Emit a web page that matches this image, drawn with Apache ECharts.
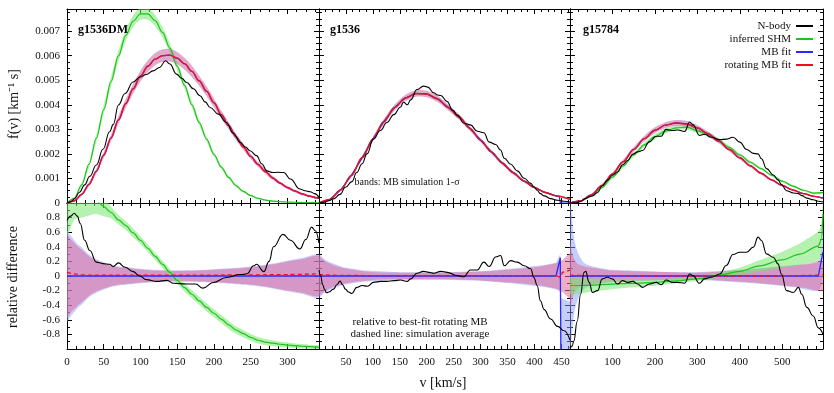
<!DOCTYPE html>
<html>
<head>
<meta charset="utf-8">
<script src="https://cdn.jsdelivr.net/npm/echarts@6/dist/echarts.min.js"></script>
<style>
  html, body { margin: 0; padding: 0; background: #fff; }
  #chart { width: 834px; height: 393px; }
</style>
</head>
<body>
<div id="chart"></div>
<script>
// ---- g1536DM ----
const p1FitV = [0,10,20,30,40,50,60,70,80,90,100,110,120,130,140,150,160,170,180,190,200,210,220,230,240,250,260,270,280,290,300,310,320,330,340,343];
const p1Shm = [0,0.00019,0.00074,0.00158,0.00264,0.0038,0.00495,0.00599,0.00683,0.00741,0.0077,0.0077,0.00743,0.00695,0.00631,0.00557,0.00479,0.004,0.00327,0.0026,0.00198,0.00146,0.00104,0.00071,0.00047,0.0003,0.00019,0.00012,0.00008,0.00005,0.00004,0.00003,0.00002,0.00002,0.00001,0.00001];
const p1ShmErr = [0,0.00004,0.00008,0.00012,0.00015,0.00018,0.0002,0.00022,0.00023,0.00024,0.00024,0.00024,0.00023,0.00021,0.00019,0.00017,0.00015,0.00013,0.00011,0.0001,0.00008,0.00007,0.00006,0.00005,0.00004,0.00003,0.00003,0.00002,0.00002,0.00001,0.00001,0.00001,0.00001,0.00001,0.00001,0.00001];
const p1Rot = [0,0.00009,0.00035,0.00076,0.0013,0.00195,0.00265,0.00338,0.00405,0.00465,0.00517,0.00557,0.00586,0.006,0.00602,0.0059,0.00567,0.00536,0.00497,0.00455,0.00408,0.0036,0.00315,0.0027,0.00228,0.0019,0.00157,0.00128,0.00102,0.00081,0.00063,0.00049,0.00037,0.00028,0.00021,0.0002];
const p1RotErr = [0,0.00002,0.00005,0.00008,0.0001,0.00012,0.00014,0.00016,0.00018,0.0002,0.00022,0.00024,0.00025,0.00026,0.00026,0.00025,0.00024,0.00023,0.00021,0.0002,0.00018,0.000165,0.00015,0.000135,0.00012,0.00011,0.0001,0.00009,0.00008,0.00007,0.00006,0.000055,0.00005,0.000045,0.00004,0.00004];
const p1BodyV = [0,5,10,17,24,31,40,49,58,63,70,79,90,99,108,117,126,134,140,149,156,163,172,181,188,195,206,217,226,236,243,249,258,265,272,280,287,295,304,317,324,331,337,343];
const p1Body = [0,0.00004,0.00017,0.00044,0.00074,0.00109,0.00155,0.00219,0.0029,0.0032,0.00399,0.00446,0.00493,0.00512,0.00523,0.00538,0.00552,0.00579,0.00566,0.00525,0.00508,0.00491,0.00465,0.00437,0.00412,0.00389,0.00362,0.00328,0.00285,0.00247,0.00228,0.00213,0.00193,0.0016,0.00131,0.00124,0.00125,0.00124,0.00098,0.00057,0.0005,0.00046,0.00038,0.00023];
const p1RelShm = [1.15,1.15,1.12,1.08,1.03,0.95,0.87,0.77,0.69,0.59,0.49,0.38,0.27,0.16,0.05,-0.06,-0.16,-0.25,-0.34,-0.43,-0.51,-0.59,-0.67,-0.74,-0.79,-0.84,-0.88,-0.905,-0.92,-0.935,-0.945,-0.955,-0.962,-0.968,-0.974,-0.975];
const p1RelShmErr = [0.6,0.38,0.32,0.25,0.18,0.13,0.08,0.065,0.06,0.06,0.055,0.05,0.05,0.05,0.05,0.045,0.055,0.055,0.055,0.055,0.055,0.055,0.055,0.052,0.05,0.047,0.045,0.042,0.04,0.037,0.035,0.032,0.03,0.027,0.025,0.025];
const p1RelV = [0,5,10,15,20,30,40,50,60,70,80,90,100,120,140,160,180,200,220,240,260,280,300,320,343];
const p1RelRotErr = [0.57,0.5,0.45,0.4,0.36,0.27,0.21,0.17,0.14,0.12,0.11,0.1,0.09,0.075,0.07,0.07,0.075,0.085,0.095,0.11,0.13,0.16,0.2,0.23,0.27];
const p1RelMbErr = [0.62,0.55,0.49,0.43,0.39,0.29,0.23,0.185,0.15,0.13,0.12,0.11,0.1,0.085,0.078,0.078,0.083,0.093,0.105,0.12,0.14,0.17,0.21,0.245,0.285];
const p1RelMbV = [0,343];
const p1RelMb = [0,0];
const p1AvgV = [0,10,20,40,150,250,300,343];
const p1Avg = [0.05,0.03,0.015,0.01,0.01,0.015,0.02,0.03];
const p1BodyRelV = [0,5,10,14,18,24,31,40,49,58,63,70,79,90,99,108,122,136,145,163,175,185,199,217,236,245,254,258,268,275,281,294,304,317,325,333,338,343];
const p1BodyRel = [0.76,0.82,0.86,0.82,0.72,0.49,0.35,0.19,0.17,0.16,0.13,0.18,0.12,0.06,0.0,-0.05,-0.074,-0.06,-0.1,-0.11,-0.11,-0.166,-0.09,-0.02,0.02,0.03,0.14,0.16,0.06,0.2,0.4,0.57,0.49,0.37,0.5,0.67,0.62,0.45];

// ---- g1536 ----
const p2FitV = [0,20,40,60,80,100,120,140,160,180,200,220,240,260,280,300,320,340,360,380,400,420,440,466];
const p2Rot = [0,0.00014,0.00053,0.00112,0.00184,0.0026,0.0033,0.00388,0.00427,0.00446,0.00444,0.00424,0.00389,0.0035,0.00304,0.00256,0.00208,0.00163,0.00124,0.0009,0.00063,0.00043,0.00029,0.00015];
const p2RotErr = [0,0.00002,0.00004,0.00006,0.00008,0.0001,0.00011,0.00012,0.00013,0.00013,0.00013,0.00013,0.00012,0.00011,0.0001,0.00009,0.00008,0.00007,0.00006,0.00005,0.00004,0.00004,0.00003,0.00003];
const p2MbV = [0,20,40,60,80,100,120,140,160,180,200,220,240,260,280,300,320,340,360,380,400,420,440,446,448,466];
const p2Mb = [0,0.00014,0.00053,0.00112,0.00184,0.0026,0.0033,0.00388,0.00427,0.00446,0.00444,0.00424,0.00389,0.0035,0.00304,0.00256,0.00208,0.00163,0.00124,0.0009,0.00063,0.00043,0.00029,0.00027,0,0];
const p2BodyV = [0,10,18,27,39,49,61,70,80,89,101,114,126,139,151,157,164,170,182,194,202,213,220,226,238,248,257,269,281,294,306,316,328,337,344,356,368,381,393,399,405,411,418,430,443,455,466];
const p2Body = [0,0.00003,0.00009,0.00017,0.00035,0.00064,0.00087,0.00124,0.0016,0.002,0.0026,0.00295,0.00328,0.0036,0.0039,0.0041,0.004,0.0042,0.00462,0.00476,0.00472,0.00449,0.0044,0.00438,0.00413,0.00378,0.00358,0.00325,0.00318,0.00292,0.00286,0.00248,0.00238,0.00216,0.00182,0.00158,0.00131,0.00101,0.0008,0.00066,0.00052,0.00038,0.00029,0.00018,0.00011,0.00007,0.00004];
const p2RelV = [0,5,10,20,30,45,60,80,108,150,200,231,260,300,356,400,418,443,452,466];
const p2RelRotErr = [0.27,0.24,0.21,0.17,0.14,0.11,0.09,0.07,0.05,0.045,0.045,0.045,0.05,0.06,0.09,0.12,0.14,0.18,0.22,0.3];
const p2MbBandV = [0,10,20,45,80,150,231,300,356,418,440,448,449,466];
const p2MbLo = [-0.3,-0.23,-0.19,-0.12,-0.08,-0.05,-0.05,-0.065,-0.1,-0.15,-0.18,-0.22,-1.0,-1.0];
const p2MbHi = [0.3,0.23,0.19,0.12,0.08,0.05,0.05,0.065,0.1,0.15,0.18,0.3,-0.3,-0.35];
const p2RelMbV = [0,440,448,449,466];
const p2RelMb = [0,0,0.25,-1.05,-1.05];
const p2AvgV = [0,30,100,440,448,452,466];
const p2Avg = [0.02,0.01,0.005,0.005,-0.02,0.05,0.08];
const p2BodyRelV = [0,3,7,10,14,18,27,33,39,44,49,55,61,70,80,90,101,114,126,139,151,164,170,182,194,204,213,226,238,257,269,281,294,306,316,328,337,344,356,368,381,393,399,405,411,418,430,443,455,466];
const p2BodyRel = [0.08,0.0,-0.12,-0.18,-0.23,-0.22,-0.18,-0.12,-0.07,-0.12,-0.18,-0.22,-0.24,-0.156,-0.13,-0.14,-0.087,-0.074,-0.074,-0.064,-0.055,-0.074,-0.04,0.037,0.064,0.05,0.037,0.064,0.05,0.005,-0.01,0.083,0.083,0.19,0.13,0.26,0.28,0.14,0.21,0.19,0.14,0.1,-0.02,-0.13,-0.34,-0.46,-0.59,-0.69,-0.75,-0.88];

// ---- g15784 ----
const p3FitV = [0,25,50,75,100,125,150,175,200,225,250,275,300,325,350,375,400,425,450,475,500,525,550,575,596];
const p3Rot = [0,0.000085,0.00033,0.00071,0.00118,0.00168,0.00218,0.00262,0.00296,0.00317,0.00326,0.00322,0.00306,0.00282,0.00252,0.00218,0.00184,0.00151,0.00121,0.00094,0.00071,0.00053,0.00038,0.00027,0.0002];
const p3RotErr = [0,0.00001,0.00003,0.00005,0.00007,0.00008,0.0001,0.00011,0.00012,0.00012,0.00012,0.00012,0.00011,0.0001,0.00009,0.00008,0.00007,0.00006,0.00005,0.00004,0.00004,0.00003,0.00003,0.00002,0.00002];
const p3Shm = [0,0.000074,0.00029,0.000625,0.00105,0.0015,0.00196,0.00237,0.0027,0.00293,0.00306,0.00309,0.00294,0.00278,0.00255,0.00227,0.00196,0.00166,0.0014,0.00113,0.00089,0.00069,0.00052,0.0004,0.00042];
const p3ShmErr = [0,0.00001,0.00002,0.00004,0.00006,0.00007,0.00008,0.00009,0.0001,0.0001,0.0001,0.0001,0.0001,0.00009,0.00008,0.00007,0.00006,0.00006,0.00005,0.00005,0.00004,0.00004,0.00004,0.00004,0.00004];
const p3BodyV = [0,10,17,25,33,40,45,53,65,76,88,100,112,124,136,148,159,171,187,203,215,226,242,254,270,282,290,305,317,333,353,368,384,400,416,432,443,451,463,479,490,498,510,526,538,546,558,573,585,596];
const p3Body = [0,0.000005,0.00002,0.000064,0.00016,0.0002,0.00025,0.00029,0.00043,0.0007,0.00092,0.00113,0.00126,0.00156,0.00173,0.00199,0.00208,0.00214,0.00249,0.00272,0.00272,0.003,0.00295,0.00297,0.00291,0.0033,0.00318,0.00275,0.0028,0.00268,0.00258,0.0026,0.00268,0.00248,0.00218,0.00202,0.002,0.0018,0.0014,0.00114,0.00094,0.00076,0.0005,0.00041,0.00038,0.0003,0.0002,0.00013,0.00007,0.00004];
const p3RelShmV = [0,25,50,100,150,200,250,300,353,400,447,499,542,585,592,596];
const p3RelShm = [-0.13,-0.13,-0.125,-0.11,-0.1,-0.087,-0.065,-0.04,0.014,0.064,0.14,0.22,0.3,0.41,0.5,0.85];
const p3RelShmErr = [0.12,0.11,0.09,0.07,0.055,0.045,0.035,0.03,0.035,0.05,0.08,0.11,0.15,0.2,0.21,0.25];
const p3RelV = [0,3,10,20,35,55,80,100,130,170,220,290,340,368,400,447,500,526,560,596];
const p3RelRotErr = [0.45,0.36,0.23,0.16,0.13,0.11,0.09,0.075,0.068,0.062,0.055,0.046,0.055,0.07,0.08,0.1,0.13,0.145,0.17,0.2];
const p3MbBandV = [0,3,10,20,35,55,80,100,170,290,368,447,526,585,596];
const p3MbLo = [-1.0,-0.9,-0.5,-0.3,-0.17,-0.13,-0.1,-0.085,-0.07,-0.05,-0.075,-0.105,-0.15,-0.2,0.0];
const p3MbHi = [1.0,0.9,0.5,0.3,0.17,0.13,0.1,0.085,0.07,0.05,0.075,0.105,0.15,0.2,0.6];
const p3RelMbV = [0,585,596];
const p3RelMb = [0,0,0.33];
const p3AvgV = [0,50,300,500,580,596];
const p3Avg = [0.01,0.005,0,0,0.01,0.02];
const p3BodyRelV = [0,5,9,17,25,33,37,45,53,65,76,88,100,112,124,136,148,159,171,187,203,215,226,242,254,270,282,290,305,317,333,353,368,384,400,416,432,443,451,463,479,490,498,510,526,538,546,558,573,585,596];
const p3BodyRel = [-0.99,-0.96,-0.89,-0.62,-0.25,0.05,0.064,-0.087,-0.225,-0.2,-0.04,-0.018,-0.04,-0.11,-0.064,-0.087,-0.074,-0.11,-0.156,-0.11,-0.087,-0.12,-0.055,-0.087,-0.087,-0.1,0.028,0.005,-0.1,-0.04,-0.018,0.028,0.143,0.294,0.326,0.326,0.395,0.533,0.487,0.303,0.257,0.166,0.028,-0.2,-0.225,-0.156,-0.25,-0.43,-0.547,-0.71,-0.8];

const FONT = 'Liberation Serif';
const BLACK = '#000000', GREEN = '#1cc41c', BLUE = '#2828ff', RED = '#ee1020';
const PINK_TOP = 'rgba(200,115,170,0.6)';
const PINK_BAND = 'rgba(226,110,155,0.56)';
const BLUE_BAND = 'rgba(140,155,250,0.5)';
const GREEN_BAND = 'rgba(120,232,110,0.55)';

// panel layout: three columns, two rows sharing borders
const cols = [
  {left: 67, width: 252, max: 343, interval: 50, minor: 4, hideZero: false},
  {left: 319, width: 251, max: 466, interval: 50, minor: 4, hideZero: true},
  {left: 570, width: 253, max: 596, interval: 100, minor: 5, hideZero: true}
];
const rows = [
  {top: 9, height: 194, min: 0, max: 0.0079, interval: 0.001, minor: 4},
  {top: 203, height: 146, min: -1, max: 1, interval: 0.2, minor: 2}
];

const pts = (xs, ys) => xs.map((x, i) => [x, ys[i]]);
const minus = (c, e) => c.map((v, i) => v - e[i]);
const plus = (c, e) => c.map((v, i) => v + e[i]);

const grids = [], xAxes = [], yAxes = [];
const tickStyle = {color: '#000', width: 1};
const labelStyle = {fontFamily: FONT, fontSize: 11, color: '#111'};

rows.forEach((r, ri) => {
  cols.forEach((c, ci) => {
    const g = grids.length;
    grids.push({left: c.left, top: r.top, width: c.width, height: r.height, outerBoundsMode: 'none', containLabel: false});
    const base = {
      type: 'value', gridIndex: g,
      axisLine: {show: true, onZero: false, lineStyle: tickStyle},
      axisTick: {show: true, inside: true, length: 5, lineStyle: tickStyle},
      splitLine: {show: false}, minorSplitLine: {show: false}
    };
    const xBase = Object.assign({}, base, {min: 0, max: c.max, interval: c.interval,
      minorTick: {show: true, splitNumber: c.minor, length: 3, lineStyle: tickStyle}});
    xAxes.push(Object.assign({}, xBase, {position: 'bottom',
      axisLabel: Object.assign({show: ri === 1, margin: 8, showMaxLabel: false,
        formatter: v => (c.hideZero && v === 0) ? '' : String(v)}, labelStyle)}));
    xAxes.push(Object.assign({}, xBase, {position: 'top', axisLabel: {show: false}}));
    const yBase = Object.assign({}, base, {min: r.min, max: r.max, interval: r.interval,
      minorTick: {show: true, splitNumber: r.minor, length: 3, lineStyle: tickStyle}});
    yAxes.push(Object.assign({}, yBase, {position: 'left',
      axisLabel: Object.assign({show: ci === 0, margin: 7, showMaxLabel: false, showMinLabel: ri === 0,
        formatter: ri === 0
          ? (v => v === 0 ? '0' : v.toFixed(3))
          : (v => Math.abs(v) < 1e-9 ? '0' : String(Math.round(v * 10) / 10))}, labelStyle)}));
    yAxes.push(Object.assign({}, yBase, {position: 'right', axisLabel: {show: false}}));
  });
});

function line(g, xs, ys, color, width, extra) {
  return Object.assign({
    type: 'line', xAxisIndex: 2 * g, yAxisIndex: 2 * g,
    data: pts(xs, ys), symbol: 'none', smooth: 0.35, smoothMonotone: 'x',
    color: color, lineStyle: {color: color, width: width},
    silent: true, z: 3
  }, extra || {});
}

// a shaded band, drawn once as a polygon through the axis scales
function band(g, xs, lo, hi, color, smooth) {
  return {
    type: 'custom', xAxisIndex: 2 * g, yAxisIndex: 2 * g, clip: true, silent: true, z: 1,
    data: xs.map((x, i) => [x, lo[i], hi[i]]),
    encode: {x: 0, y: [1, 2]},
    renderItem: function (params, api) {
      if (params.dataIndex !== 0) return null;
      const top = xs.map((x, i) => api.coord([x, hi[i]]));
      const bot = xs.map((x, i) => api.coord([x, lo[i]])).reverse();
      return {type: 'polygon', shape: {points: top.concat(bot), smooth: smooth === undefined ? 0.25 : smooth},
        style: {fill: color, stroke: null}};
    }
  };
}

const BODY = 1.1;
const series = [
  // g1536DM f(v)
  band(0, p1FitV, minus(p1Shm, p1ShmErr), plus(p1Shm, p1ShmErr), GREEN_BAND),
  band(0, p1FitV, minus(p1Rot, p1RotErr), plus(p1Rot, p1RotErr), PINK_TOP),
  line(0, p1FitV, p1Shm, GREEN, 1.2, {name: 'inferred SHM'}),
  line(0, p1FitV, p1Rot, BLUE, 1.2, {name: 'MB fit'}),
  line(0, p1FitV, p1Rot, RED, 1.4, {name: 'rotating MB fit'}),
  line(0, p1BodyV, p1Body, BLACK, BODY, {name: 'N-body', z: 4, smooth: 0.45}),
  // g1536 f(v)
  band(1, p2FitV, minus(p2Rot, p2RotErr), plus(p2Rot, p2RotErr), PINK_TOP),
  line(1, p2FitV, p2Rot, GREEN, 1.2),
  line(1, p2MbV, p2Mb, BLUE, 1.2, {smooth: false}),
  line(1, p2FitV, p2Rot, RED, 1.4),
  line(1, p2BodyV, p2Body, BLACK, BODY, {z: 4, smooth: 0.45}),
  // g15784 f(v)
  band(2, p3FitV, minus(p3Shm, p3ShmErr), plus(p3Shm, p3ShmErr), GREEN_BAND),
  band(2, p3FitV, minus(p3Rot, p3RotErr), plus(p3Rot, p3RotErr), PINK_TOP),
  line(2, p3FitV, p3Shm, GREEN, 1.2),
  line(2, p3FitV, p3Rot, BLUE, 1.2),
  line(2, p3FitV, p3Rot, RED, 1.4),
  line(2, p3BodyV, p3Body, BLACK, BODY, {z: 4, smooth: 0.45}),
  // g1536DM relative difference
  band(3, p1RelV, p1RelMbErr.map(e => -e), p1RelMbErr, BLUE_BAND),
  band(3, p1RelV, p1RelRotErr.map(e => -e), p1RelRotErr, PINK_BAND),
  band(3, p1FitV, minus(p1RelShm, p1RelShmErr), plus(p1RelShm, p1RelShmErr), GREEN_BAND),
  line(3, p1FitV, p1RelShm, GREEN, 1.2),
  line(3, p1RelMbV, p1RelMb, BLUE, 1.3, {smooth: false}),
  line(3, p1AvgV, p1Avg, RED, 1.3, {lineStyle: {color: RED, width: 1.3, type: [4, 3]}}),
  line(3, p1BodyRelV, p1BodyRel, BLACK, BODY, {z: 4, smooth: 0.45}),
  // g1536 relative difference
  band(4, p2MbBandV, p2MbLo, p2MbHi, BLUE_BAND, 0),
  band(4, p2RelV, p2RelRotErr.map(e => -e), p2RelRotErr, PINK_BAND),
  line(4, p2RelMbV, p2RelMb, BLUE, 1.3, {smooth: false}),
  line(4, p2AvgV, p2Avg, RED, 1.3, {smooth: false, lineStyle: {color: RED, width: 1.3, type: [4, 3]}}),
  line(4, p2BodyRelV, p2BodyRel, BLACK, BODY, {z: 4, smooth: 0.45}),
  // g15784 relative difference
  band(5, p3MbBandV, p3MbLo, p3MbHi, BLUE_BAND),
  band(5, p3RelV, p3RelRotErr.map(e => -e), p3RelRotErr, PINK_BAND),
  band(5, p3RelShmV, minus(p3RelShm, p3RelShmErr), plus(p3RelShm, p3RelShmErr), GREEN_BAND, 0.15),
  line(5, p3RelShmV, p3RelShm, GREEN, 1.2),
  line(5, p3RelMbV, p3RelMb, BLUE, 1.3, {smooth: false}),
  line(5, p3AvgV, p3Avg, RED, 1.3, {lineStyle: {color: RED, width: 1.3, type: [4, 3]}}),
  line(5, p3BodyRelV, p3BodyRel, BLACK, BODY, {z: 4, smooth: 0.45})
];

const txt = (x, y, text, opts) => ({
  type: 'text', x: x, y: y, z: 10, silent: true, rotation: (opts && opts.rotation) || 0,
  style: Object.assign({text: text, fontFamily: FONT, fontSize: 11, fill: '#111',
    align: 'left', verticalAlign: 'middle'}, (opts && opts.style) || {})
});

const chart = echarts.init(document.getElementById('chart'), null, {renderer: 'canvas'});
chart.setOption({
  animation: false,
  backgroundColor: '#fff',
  grid: grids,
  xAxis: xAxes,
  yAxis: yAxes,
  legend: {
    data: ['N-body', 'inferred SHM', 'MB fit', 'rotating MB fit'],
    orient: 'vertical', right: 21, top: 20, align: 'right', padding: 0,
    icon: 'rect', itemWidth: 17, itemHeight: 2, itemGap: 1, selectedMode: false,
    textStyle: {fontFamily: FONT, fontSize: 11, color: '#111', lineHeight: 12}
  },
  graphic: [
    txt(78, 30, 'g1536DM', {style: {fontWeight: 'bold', fontSize: 12, fill: '#000'}}),
    txt(330, 30, 'g1536', {style: {fontWeight: 'bold', fontSize: 12, fill: '#000'}}),
    txt(583, 30, 'g15784', {style: {fontWeight: 'bold', fontSize: 12, fill: '#000'}}),
    txt(407, 182, 'bands: MB simulation 1-σ', {style: {align: 'center', fontSize: 10}}),
    txt(420, 322, 'relative to best-fit rotating MB', {style: {align: 'center'}}),
    txt(420, 334.5, 'dashed line: simulation average', {style: {align: 'center'}}),
    txt(443, 383, 'v [km/s]', {style: {align: 'center', fontSize: 14}}),
    txt(14, 104, 'f(v) [km⁻¹ s]', {rotation: Math.PI / 2, style: {align: 'center', fontSize: 14}}),
    txt(13, 277, 'relative difference', {rotation: Math.PI / 2, style: {align: 'center', fontSize: 14}})
  ],
  series: series
});
</script>
</body>
</html>
